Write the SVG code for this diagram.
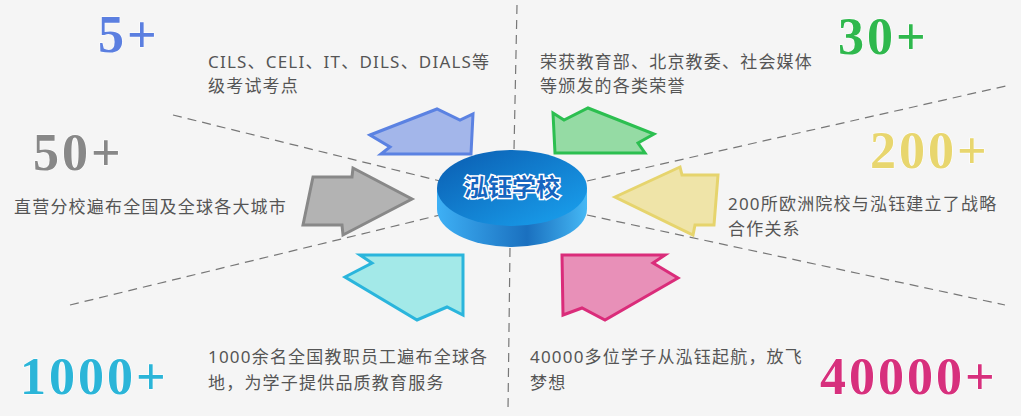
<svg xmlns="http://www.w3.org/2000/svg" width="1021" height="416" viewBox="0 0 1021 416">
<style>
.num{font-family:"Liberation Serif",serif;font-weight:bold;font-size:52px;letter-spacing:3px;stroke:#fff;stroke-width:1;paint-order:stroke}
.t{font-family:"Noto Sans","Noto Sans CJK SC",sans-serif;font-size:17px;letter-spacing:1.2px;fill:#555}
.d{stroke:#777;stroke-width:1.2;stroke-dasharray:9 6;fill:none}
.ar{stroke-width:3;stroke-linejoin:miter}
</style>
<defs>
<linearGradient id="top" x1="0" y1="0" x2="1" y2="1"><stop offset="0" stop-color="#0a5cb0"/><stop offset="1" stop-color="#1aa3f0"/></linearGradient>
<linearGradient id="side" x1="0" y1="0" x2="1" y2="0"><stop offset="0" stop-color="#3eb0f5"/><stop offset="0.6" stop-color="#1a70bf"/><stop offset="1" stop-color="#45b8f5"/></linearGradient>
</defs>
<rect width="1021" height="416" fill="#f5f5f5"/>
<g id="connectors">
<line class="d" x1="517" y1="5" x2="514" y2="150"/>
<line class="d" x1="510" y1="248" x2="508" y2="410"/>
<line class="d" x1="173" y1="115" x2="440" y2="181"/>
<line class="d" x1="70" y1="305" x2="440" y2="215"/>
<line class="d" x1="587" y1="181" x2="1010" y2="85"/>
<line class="d" x1="587" y1="215" x2="1005" y2="305"/>
</g>
<g id="arrow-blue"><polygon class="ar" points="370,135 437,109 460,120 473,114 471,154 381,154 390,147" fill="#a3b6ea" stroke="#5b82e2"/></g>
<g id="arrow-green"><polygon class="ar" points="553,113 564,120 588,108 654,134 638,143 645,153 555,153" fill="#95dba4" stroke="#2cbf50"/></g>
<g id="arrow-gray"><polygon class="ar" points="313,177 352,177 353,168 412,199 343,235 342,225 303,225" fill="#b3b3b3" stroke="#888"/></g>
<g id="arrow-yellow"><polygon class="ar" points="615,197 680,167 682,175 718,175 714,225 695,225 693,235" fill="#efe4a8" stroke="#e6d46d"/></g>
<g id="arrow-cyan"><polygon class="ar" points="345,277 372,263 360,255 463,255 463,315 447,307 417,320" fill="#a3e9e8" stroke="#2ab5dc"/></g>
<g id="arrow-pink"><polygon class="ar" points="562,255 665,255 653,263 678,278 605,320 582,308 563,315" fill="#e890b8" stroke="#da2c7a"/></g>
<g id="center">
<path d="M437,188 V209 A75,38 0 0 0 587,209 V188 Z" fill="url(#side)"/>
<ellipse cx="512" cy="188" rx="75" ry="38" fill="url(#top)"/>
<text x="512" y="196" text-anchor="middle" font-family="Noto Sans CJK SC,sans-serif" font-weight="bold" font-size="24" fill="#1565c0" stroke="#fff" stroke-width="3" paint-order="stroke">泓钰学校</text>
</g>
<g id="n5"><text class="num" x="98" y="52" fill="#5b7fe0">5+</text>
<text class="t" x="208" y="68">CILS、CELI、IT、DILS、DIALS等</text><text class="t" x="208" y="92">级考试考点</text></g>
<g id="n30"><text class="num" x="838" y="54" fill="#2fb84d">30+</text>
<text class="t" x="540" y="68">荣获教育部、北京教委、社会媒体</text><text class="t" x="540" y="92">等颁发的各类荣誉</text></g>
<g id="n50"><text class="num" x="33" y="170" fill="#888">50+</text>
<text class="t" x="14" y="213">直营分校遍布全国及全球各大城市</text></g>
<g id="n200"><text class="num" x="870" y="168" fill="#e8d66e">200+</text>
<text class="t" x="728" y="210">200所欧洲院校与泓钰建立了战略</text><text class="t" x="728" y="235">合作关系</text></g>
<g id="n1000"><text class="num" x="20" y="394" fill="#2bb5d8">1000+</text>
<text class="t" x="208" y="363">1000余名全国教职员工遍布全球各</text><text class="t" x="208" y="389">地，为学子提供品质教育服务</text></g>
<g id="n40000"><text class="num" x="820" y="394" fill="#d7307d">40000+</text>
<text class="t" x="530" y="363">40000多位学子从泓钰起航，放飞</text><text class="t" x="530" y="389">梦想</text></g>
</svg>
